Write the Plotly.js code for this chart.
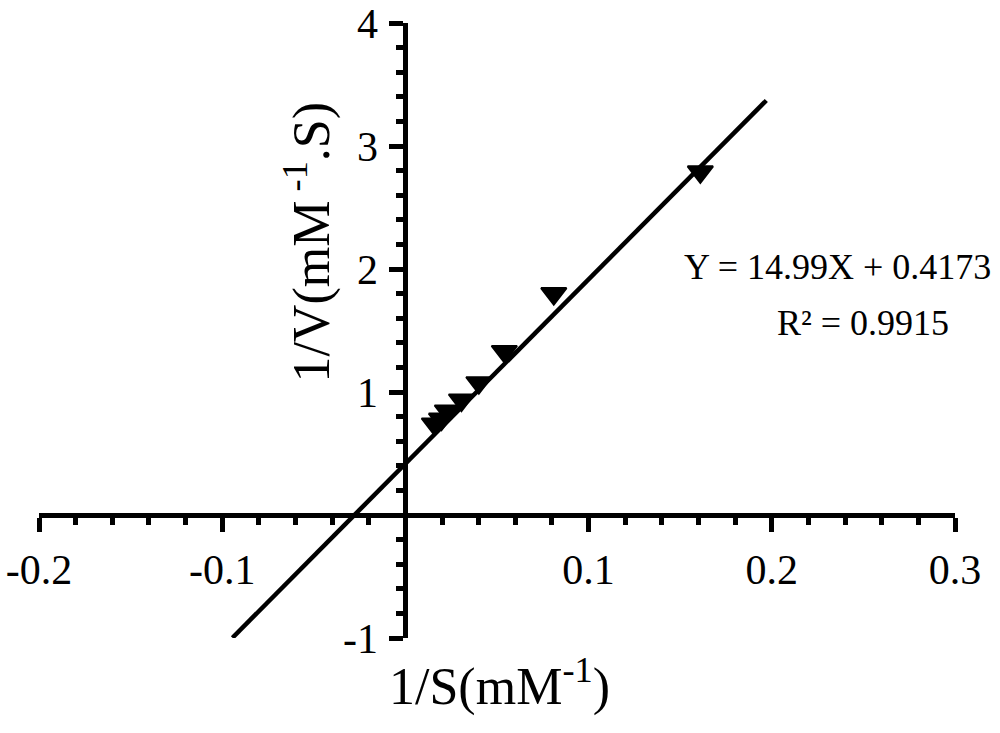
<!DOCTYPE html>
<html>
<head>
<meta charset="utf-8">
<script src="https://cdn.plot.ly/plotly-3.0.1.min.js"></script>
<style>html,body{margin:0;padding:0;background:#fff;}#chart{width:1000px;height:733px;}</style>
</head>
<body>
<div id="chart"></div>
<script>
// Data (Lineweaver-Burk plot)
const invS = [0.0158, 0.0197, 0.0229, 0.0306, 0.0401, 0.054, 0.081, 0.161];
const invV = [0.74, 0.78, 0.846, 0.935, 1.076, 1.33, 1.80, 2.79];
// Regression line end points (Y = 14.99X + 0.4173)
const fitX = [-0.0944, 0.197];
const fitY = [-0.998, 3.37];
// Tick labels
const xTickVals = [-0.2, -0.1, 0, 0.1, 0.2, 0.3];
const xTickText = ['-0.2', '-0.1', '', '0.1', '0.2', '0.3'];
const yTickVals = [-1, 0, 1, 2, 3, 4];
const yTickText = ['-1', '', '1', '2', '3', '4'];
const eqText = 'Y = 14.99X + 0.4173';
const r2Text = 'R² = 0.9915';
const xTitle = '1/S(mM<sup>-1</sup>)';
const yTitle = '1/V(mM<sup> -1</sup>.S)';

const serif = 'Liberation Serif, Times New Roman, serif';

const traces = [
  {
    x: fitX, y: fitY, type: 'scatter', mode: 'lines',
    line: {color: '#000', width: 4.5}, hoverinfo: 'skip', showlegend: false
  },
  {
    x: invS, y: invV, type: 'scatter', mode: 'markers',
    marker: {symbol: 'triangle-down', size: 22, color: '#000', line: {color: '#000', width: 2}},
    showlegend: false
  }
];

const layout = {
  width: 1000, height: 733,
  margin: {l: 39, r: 45, t: 23, b: 95},
  paper_bgcolor: '#fff', plot_bgcolor: '#fff',
  showlegend: false,
  font: {family: serif, color: '#000'},
  xaxis: {
    range: [-0.2, 0.3], anchor: 'free', position: 0.2,
    showgrid: false, zeroline: false,
    showline: true, linecolor: '#000', linewidth: 5,
    tickmode: 'array', tickvals: xTickVals, ticktext: xTickText,
    ticks: 'outside', ticklen: 14, tickwidth: 5, tickcolor: '#000',
    tickfont: {family: serif, size: 42, color: '#000'},
    ticklabelstandoff: 2,
    minor: {tickmode: 'linear', tick0: 0, dtick: 0.02, ticks: 'outside', ticklen: 7, tickwidth: 5, tickcolor: '#000', showgrid: false}
  },
  yaxis: {
    range: [-1, 4], anchor: 'free', position: 0.4,
    showgrid: false, zeroline: false,
    showline: true, linecolor: '#000', linewidth: 5,
    tickmode: 'array', tickvals: yTickVals, ticktext: yTickText,
    ticks: 'outside', ticklen: 14, tickwidth: 5, tickcolor: '#000',
    tickfont: {family: serif, size: 42, color: '#000'},
    ticklabelstandoff: 3,
    minor: {tickmode: 'linear', tick0: 0, dtick: 0.2, ticks: 'outside', ticklen: 7, tickwidth: 5, tickcolor: '#000', showgrid: false}
  },
  annotations: [
    {text: eqText, xref: 'paper', yref: 'paper', x: 0.8717, y: 0.6026, xanchor: 'center', yanchor: 'middle', showarrow: false, font: {family: serif, size: 36, color: '#000'}},
    {text: r2Text, xref: 'paper', yref: 'paper', x: 0.900, y: 0.513, xanchor: 'center', yanchor: 'middle', showarrow: false, font: {family: serif, size: 36, color: '#000'}},
    {text: xTitle, xref: 'paper', yref: 'paper', x: 0.503, y: -0.0733, xanchor: 'center', yanchor: 'middle', showarrow: false, font: {family: serif, size: 52, color: '#000'}},
    {text: yTitle, xref: 'paper', yref: 'paper', x: 0.2937, y: 0.643, xanchor: 'center', yanchor: 'middle', textangle: -90, showarrow: false, font: {family: serif, size: 52, color: '#000'}}
  ]
};

Plotly.newPlot('chart', traces, layout, {displayModeBar: false, staticPlot: true});
</script>
</body>
</html>
